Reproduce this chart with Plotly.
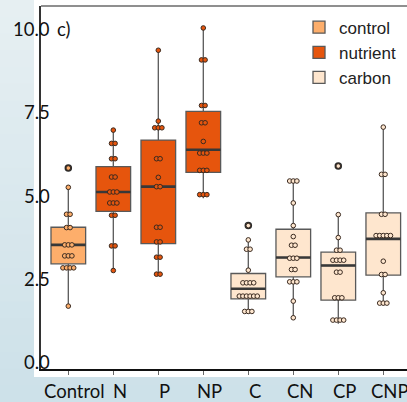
import numpy as np
import plotly.graph_objects as go

# ---- data -------------------------------------------------------------
categories = ["Control", "N", "P", "NP", "C", "CN", "CP", "CNP"]
treatment = ["control", "nutrient", "nutrient", "nutrient",
             "carbon", "carbon", "carbon", "carbon"]

# box statistics per category
q1 = [2.95, 4.53, 3.56, 5.70, 1.90, 2.56, 1.86, 2.61]
median = [3.52, 5.11, 5.27, 6.38, 2.20, 3.14, 2.90, 3.70]
q3 = [4.05, 5.87, 6.67, 7.53, 2.66, 3.99, 3.30, 4.48]
lower_whisker = [1.68, 2.75, 2.64, 4.92, 1.45, 1.33, 1.15, 1.70]
upper_whisker = [5.25, 6.97, 9.37, 10.04, 3.67, 5.44, 4.43, 7.06]

# individual observations per category
obs_control = [5.83, 5.25, 4.44, 4.44, 4.04, 4.04, 3.52, 3.52, 3.52,
               3.19, 3.19, 3.19, 2.83, 2.83, 2.83, 2.83, 1.68]
obs_N = [6.97, 6.57, 6.57, 6.11, 6.11, 5.56, 5.56, 5.11, 5.11, 5.11,
         4.78, 4.78, 4.78, 4.41, 4.41, 3.49, 3.49, 2.75]
obs_P = [9.37, 7.24, 7.04, 7.04, 7.04, 6.11, 6.11, 5.55, 5.27, 5.27,
         4.05, 4.05, 3.61, 3.61, 3.15, 3.15, 2.64, 2.64]
obs_NP = [10.04, 9.08, 9.08, 7.71, 7.71, 7.19, 7.19, 6.63, 6.28, 6.28,
          6.28, 5.76, 5.76, 5.76, 5.03, 5.03, 5.03]
obs_C = [4.10, 3.67, 3.39, 3.39, 2.76, 2.38, 2.38, 2.38, 2.38,
         1.98, 1.98, 1.98, 1.98, 1.98, 1.98, 1.52, 1.52, 1.52]
obs_CN = [5.44, 5.44, 5.44, 4.78, 4.10, 3.77, 3.51, 3.51, 3.12, 3.12,
          3.12, 2.78, 2.78, 2.41, 2.41, 2.41, 1.83, 1.33]
obs_CP = [5.89, 4.43, 3.74, 3.36, 3.36, 3.06, 3.06, 3.06, 3.06,
          2.70, 2.70, 1.93, 1.93, 1.93, 1.26, 1.26, 1.26, 1.26]
obs_CNP = [7.06, 5.64, 5.64, 4.44, 4.44, 3.80, 3.80, 3.80, 3.80, 3.80,
           3.03, 2.63, 2.63, 2.08, 1.77, 1.77, 1.77]
observations = [obs_control, obs_N, obs_P, obs_NP, obs_C, obs_CN, obs_CP, obs_CNP]

y_ticks = [0.0, 2.5, 5.0, 7.5, 10.0]
legend_names = ["control", "nutrient", "carbon"]

# ---- style ------------------------------------------------------------
fill = {"control": "#FDAE6B", "nutrient": "#E6550D", "carbon": "#FEE6CE"}
BOX_W = 0.77
DOT_DX = 0.08
AX_FONT = "Lato, Open Sans, sans-serif"
AX_SIZE = 18.5

W, H = 407, 402
ML, MT, MB = 41, 6, 33
PW, PH = W - ML, H - MT - MB

positions = list(range(len(categories)))
fig = go.Figure()

# boxes, one trace per treatment type
for name in legend_names:
    idx = [i for i, t in enumerate(treatment) if t == name]
    fig.add_trace(go.Box(
        x=[positions[i] for i in idx],
        q1=[q1[i] for i in idx], median=[median[i] for i in idx],
        q3=[q3[i] for i in idx],
        lowerfence=[lower_whisker[i] for i in idx],
        upperfence=[upper_whisker[i] for i in idx],
        name=name, legendgroup=name,
        fillcolor=fill[name], line=dict(color="#595959", width=1.3),
        width=BOX_W, whiskerwidth=0, boxpoints=False, hoverinfo="skip",
    ))

# thick median bars
mx, my = [], []
for i in positions:
    mx += [positions[i] - BOX_W / 2, positions[i] + BOX_W / 2, None]
    my += [median[i], median[i], None]
fig.add_trace(go.Scatter(x=mx, y=my, mode="lines", showlegend=False,
                         line=dict(color="#383838", width=2.6), hoverinfo="skip"))

# outliers (beyond whiskers) as dark dots
ox, oy = [], []
for i, vals in enumerate(observations):
    for v in vals:
        if v > upper_whisker[i] or v < lower_whisker[i]:
            ox.append(positions[i]); oy.append(v)
fig.add_trace(go.Scatter(x=ox, y=oy, mode="markers", showlegend=False,
                         marker=dict(size=7.5, color="#2a2a2a"), hoverinfo="skip"))

# swarm of observations: equal values spread side by side
for i, vals in enumerate(observations):
    xs, ys = [], []
    for v in sorted(set(vals)):
        k = vals.count(v)
        for j in range(k):
            xs.append(positions[i] + (j - (k - 1) / 2) * DOT_DX)
            ys.append(v)
    fig.add_trace(go.Scatter(
        x=xs, y=ys, mode="markers", showlegend=False, hoverinfo="skip",
        marker=dict(size=4.6, color=fill[treatment[i]],
                    line=dict(color="#3a2a20", width=1)),
    ))

# y tick labels sitting over the axis line
for t in y_ticks:
    fig.add_annotation(x=(52 - ML) / PW, xref="paper", y=t, yref="y",
                       text=f"{t:.1f}", showarrow=False, xanchor="right",
                       font=dict(family=AX_FONT, size=AX_SIZE, color="#111111"))
fig.add_annotation(x=(55 - ML) / PW, xref="paper", y=10.0, yref="y",
                   text="c)", showarrow=False, xanchor="left",
                   font=dict(family=AX_FONT, size=AX_SIZE, color="#111111"))

# category labels, set slightly right of their ticks
for p, lab in zip(positions, categories):
    fig.add_annotation(x=p, xref="x", y=-22 / PH, yref="paper",
                       text=lab, showarrow=False, xanchor="center",
                       yanchor="middle", xshift=6.5,
                       font=dict(family=AX_FONT, size=AX_SIZE, color="#111111"))

# background: soft blue gradient, white panel, top frame line
shapes = []
top_col = np.array([0xe7, 0xf0, 0xf3])
bot_col = np.array([0xcd, 0xe1, 0xe9])
nb = 24
y_lo, y_hi = -MB / PH, (PH + MT) / PH
for b in range(nb):
    c = top_col + (bot_col - top_col) * (b + 0.5) / nb
    y1 = y_hi - (y_hi - y_lo) * b / nb
    y0 = y_hi - (y_hi - y_lo) * (b + 1) / nb
    shapes.append(dict(type="rect", xref="paper", yref="paper", layer="below",
                       x0=-ML / PW - 0.01, x1=1.01, y0=y0 - 0.002, y1=y1,
                       line=dict(width=0),
                       fillcolor="rgb(%d,%d,%d)" % tuple(c.astype(int))))
shapes.append(dict(type="rect", xref="paper", yref="paper", layer="below",
                   x0=(34 - ML) / PW, x1=1.01, y0=-8 / PH, y1=y_hi + 0.01,
                   line=dict(width=0), fillcolor="white"))
shapes.append(dict(type="line", xref="paper", yref="paper",
                   x0=0, x1=1, y0=1, y1=1,
                   line=dict(color="#6a6a6a", width=1.5)))

fig.update_layout(
    width=W, height=H,
    margin=dict(l=ML, r=0, t=MT, b=MB, pad=0),
    paper_bgcolor="#d9e8ee", plot_bgcolor="rgba(0,0,0,0)",
    shapes=shapes,
    showlegend=True,
    legend=dict(x=(299 - ML) / PW, y=0.99, xanchor="left", yanchor="top",
                bgcolor="rgba(0,0,0,0)", tracegroupgap=0,
                font=dict(family="Liberation Sans, Arial, sans-serif",
                          size=17, color="#222222")),
    xaxis=dict(range=[-0.607, 7.527], tickmode="array", tickvals=positions,
               showticklabels=False, showgrid=False, zeroline=False,
               showline=True, linecolor="#111111", linewidth=2.2,
               ticks="outside", ticklen=4, tickcolor="#666666", tickwidth=1),
    yaxis=dict(range=[-0.21, 10.70], showgrid=False, zeroline=False,
               showline=True, linecolor="#333333", linewidth=1.5,
               showticklabels=False, ticks=""),
)

fig.write_html("out.html")
